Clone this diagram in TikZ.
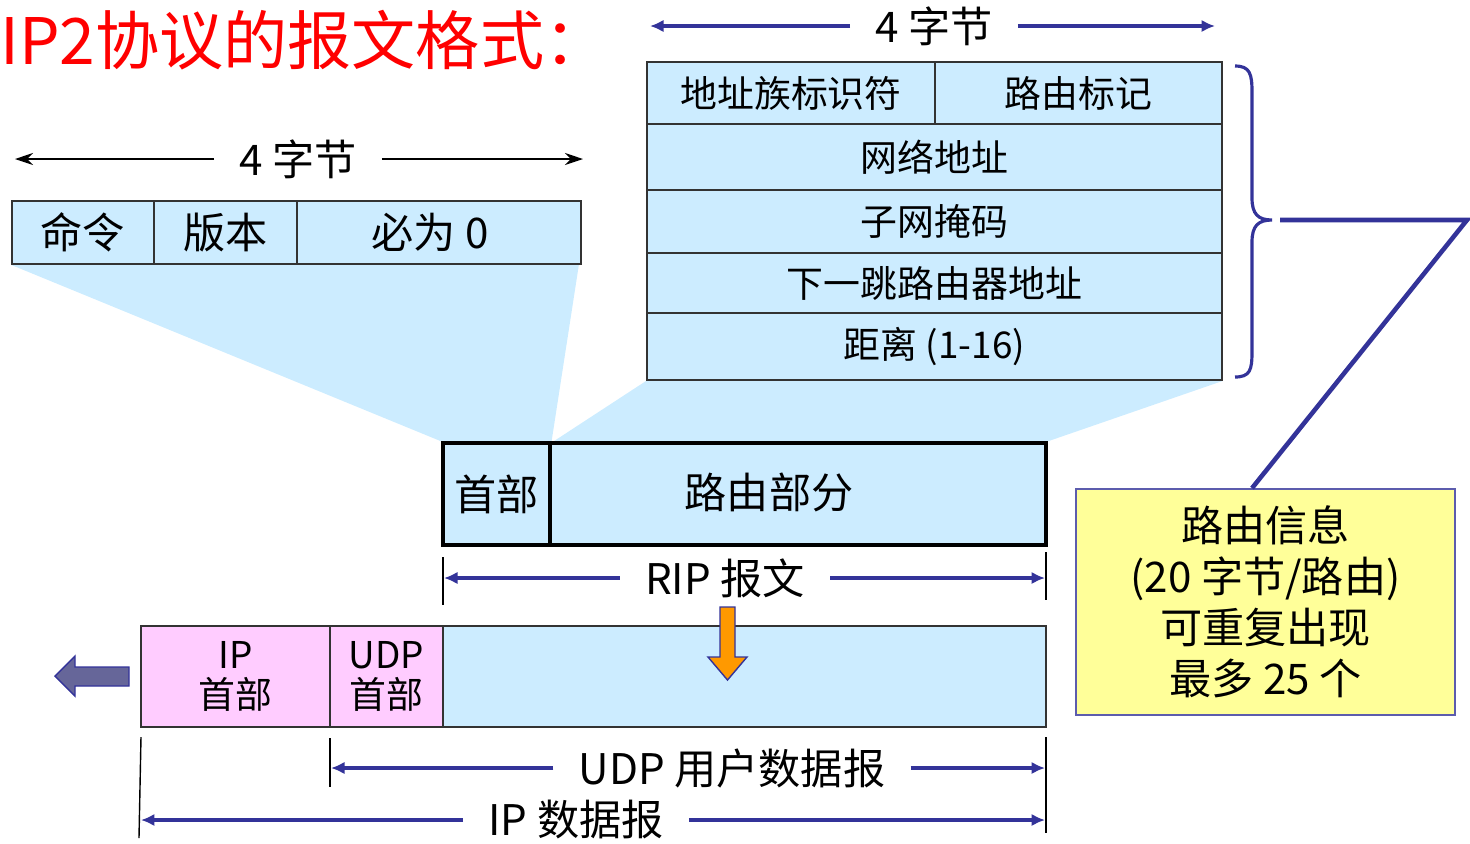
\documentclass[tikz,border=0pt]{standalone}
\usepackage{fontspec}
\setmainfont{Noto Sans CJK SC}
\usetikzlibrary{arrows.meta, backgrounds}

\definecolor{cellblue}{HTML}{CCECFF}
\definecolor{hdrpink}{HTML}{FFCCFF}
\definecolor{dimblue}{HTML}{333399}
\definecolor{noteyellow}{HTML}{FFFF99}
\definecolor{arroworange}{HTML}{FF9900}
\definecolor{backgrey}{HTML}{666699}
\definecolor{titlered}{HTML}{FF0000}

\newcommand{\titlefont}{\fontsize{36.5pt}{42pt}\selectfont}
\newcommand{\cellfont}{\fontsize{24pt}{28pt}\selectfont}
\newcommand{\rowfont}{\fontsize{21pt}{23pt}\selectfont}
\newcommand{\notefont}{\fontsize{24pt}{29pt}\selectfont}

\begin{document}
\begin{tikzpicture}[x=0.02cm, y=-0.02cm,
    cell/.style={draw=black!80, line width=1pt, fill=cellblue, inner sep=0pt, font=\cellfont},
    rowcell/.style={cell, font=\rowfont},
    ripcell/.style={cell, draw=black, line width=1.8pt},
    dimlbl/.style={font=\cellfont, inner xsep=0.5cm, inner ysep=0pt},
    dimline/.style={draw=dimblue, line width=2.2pt, -{Latex[length=0.27cm, width=0.25cm]}},
    blackdim/.style={draw=black, line width=1pt, -{Stealth[length=0.36cm, width=0.24cm]}},
    tick/.style={draw=black, line width=0.8pt},
    braceline/.style={draw=dimblue, line width=1.8pt},
    link/.style={draw=dimblue, line width=2.6pt}]
    \useasboundingbox (0,0) rectangle (1470,843);

    % 标题
    \node[anchor=west, inner sep=0pt, text=titlered, font=\titlefont] (title) at (0,40) {IP2协议的报文格式：};

    % 首部 4 字节
    \node[cell, minimum width=2.84cm, minimum height=1.26cm] (cmd) at (83,232.5) {命令};
    \node[cell, minimum width=2.86cm, minimum height=1.26cm] (ver) at (225.5,232.5) {版本};
    \node[cell, minimum width=5.68cm, minimum height=1.26cm] (zero) at (439,232.5) {};
    \node[font=\cellfont] (zerotxt) at (430,232.5) {必为 0};

    % 路由信息 20 字节
    \node[rowcell, minimum width=5.76cm, minimum height=1.24cm] (afi) at (791,93) {地址族标识符};
    \node[rowcell, minimum width=5.74cm, minimum height=1.24cm] (tag) at (1078.5,93) {路由标记};
    \node[rowcell, minimum width=11.5cm, minimum height=1.32cm] (net) at (934.5,157) {网络地址};
    \node[rowcell, minimum width=11.5cm, minimum height=1.26cm] (mask) at (934.5,221.5) {子网掩码};
    \node[rowcell, minimum width=11.5cm, minimum height=1.2cm] (hop) at (934.5,283) {下一跳路由器地址};
    \node[rowcell, minimum width=11.5cm, minimum height=1.34cm] (dist) at (934.5,346.5) {距离 (1-16)};

    % RIP 报文
    \node[ripcell, minimum width=2.14cm, minimum height=2.04cm] (hdr) at (496.5,494) {首部};
    \node[ripcell, minimum width=9.92cm, minimum height=2.04cm] (route) at (798,494) {};
    \node[font=\cellfont] (routetxt) at (769,492) {路由部分};

    % IP 数据报
    \node[rowcell, fill=hdrpink, align=center, minimum width=3.78cm, minimum height=2.02cm] (iph) at (235.5,676.5) {IP\\首部};
    \node[rowcell, fill=hdrpink, align=center, minimum width=2.26cm, minimum height=2.02cm] (udph) at (386.5,676.5) {UDP\\首部};
    \node[rowcell, minimum width=12.06cm, minimum height=2.02cm] (data) at (744.5,676.5) {};

    % 说明框
    \node[draw=dimblue!80, line width=1pt, fill=noteyellow, align=center, font=\notefont, inner sep=0pt,
          minimum width=7.58cm, minimum height=4.52cm] (info) at (1265.5,602)
          {路由信息\\(20 字节/路由)\\可重复出现\\最多 25 个};

    % 展开的阴影
    \begin{scope}[on background layer]
        \fill[cellblue] (cmd.south west) -- ([xshift=-0.06cm]zero.south east) -- (hdr.north east) -- (hdr.north west) -- cycle;
        \fill[cellblue] (dist.south west) -- (dist.south east) -- (route.north east) -- ([xshift=0.1cm]route.north west) -- cycle;
    \end{scope}

    % 宽度标注
    \node[dimlbl] (wleft) at (298,159) {4 字节};
    \coordinate (wleftA) at (15,159);
    \coordinate (wleftB) at (583,159);
    \draw[blackdim] (wleft) -- (wleftA);
    \draw[blackdim] (wleft) -- (wleftB);

    \node[dimlbl] (wright) at (934,26) {4 字节};
    \coordinate (wrightA) at (650,26);
    \coordinate (wrightB) at (1215,26);
    \draw[dimline] (wright) -- (wrightA);
    \draw[dimline] (wright) -- (wrightB);

    \node[dimlbl] (riplbl) at (725,578) {RIP 报文};
    \coordinate (ripA) at (444,578);
    \coordinate (ripB) at (1045,578);
    \draw[dimline] (riplbl) -- (ripA);
    \draw[dimline] (riplbl) -- (ripB);

    \node[dimlbl] (udplbl) at (732,768) {UDP 用户数据报};
    \coordinate (udpA) at (331,768);
    \coordinate (udpB) at (1045,768);
    \draw[dimline] (udplbl) -- (udpA);
    \draw[dimline] (udplbl) -- (udpB);

    \node[dimlbl] (iplbl) at (576,820) {IP 数据报};
    \coordinate (ipA) at (141,820);
    \coordinate (ipB) at (1045,820);
    \draw[dimline] (iplbl) -- (ipA);
    \draw[dimline] (iplbl) -- (ipB);

    % 竖线
    \draw[tick] (443,557) -- (443,605);
    \draw[tick] (1046,552) -- (1046,600);
    \draw[tick] (330,738) -- (330,787);
    \draw[tick] (1046,737) -- (1046,833);
    \draw[tick] (141,737) -- (139,838);

    % 封装箭头
    \filldraw[fill=arroworange, draw=dimblue, line width=0.8pt]
        (720,607) -- (735,607) -- (735,657) -- (747,657) -- (727.5,680) -- (708,657) -- (720,657) -- cycle;
    \filldraw[fill=backgrey, draw=dimblue, line width=0.8pt]
        (129,667) -- (75,667) -- (75,656) -- (55,676) -- (75,696) -- (75,686) -- (129,686) -- cycle;

    % 大括号与连线
    \draw[braceline] (1235,66) .. controls (1250,66) and (1252,74) .. (1252,92) -- (1252,198)
        .. controls (1252,214) and (1258,220) .. (1272,220)
        .. controls (1258,220) and (1252,226) .. (1252,242) -- (1252,352)
        .. controls (1252,370) and (1250,377) .. (1235,377);
    \coordinate (bracetip) at (1280,220);
    \coordinate (bend) at (1467,220);
    \draw[link] (bracetip) -- (bend) -- ([xshift=-0.27cm]info.north);
\end{tikzpicture}
\end{document}
